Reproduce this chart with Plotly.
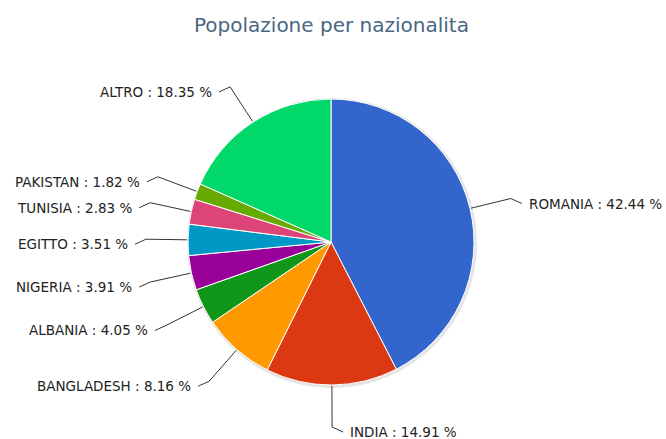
import math
import plotly.graph_objects as go

labels = ["ROMANIA", "INDIA", "BANGLADESH", "ALBANIA", "NIGERIA", "EGITTO", "TUNISIA", "PAKISTAN", "ALTRO"]
values = [42.44, 14.91, 8.16, 4.05, 3.91, 3.51, 2.83, 1.82, 18.35]
colors = ["#3366CC", "#DC3912", "#FF9900", "#109618", "#990099", "#0099C6", "#DD4477", "#66AA00", "#00D96A"]
title = "Popolazione per nazionalita"

W, H = 666, 439
cx, cy, R = 331, 242, 143
RL = 185
PAD = 16
DY = 5

fig = go.Figure()

fig.add_trace(go.Pie(
    labels=labels, values=values, sort=False, direction="clockwise", rotation=0,
    marker=dict(colors=colors, line=dict(color="white", width=1)),
    textinfo="none", hoverinfo="label+percent", showlegend=False,
    domain=dict(x=[(cx - R) / W, (cx + R) / W], y=[1 - (cy + R) / H, 1 - (cy - R) / H]),
))

total = sum(values)
cum = 0.0
shapes = []
annotations = []
# shadow
shapes.append(dict(type="circle", xref="x", yref="y", x0=cx - R - 1, x1=cx + R + 3, y0=cy - R - 1, y1=cy + R + 3,
                   fillcolor="rgba(0,0,0,0.10)", line=dict(width=0), layer="below"))
for lab, v in zip(labels, values):
    mid = (cum + v / 2) / total
    cum += v
    th = 2 * math.pi * mid
    s, c = math.sin(th), math.cos(th)
    ex, ey = cx + (R + 1) * s, cy - (R + 1) * c
    ax, ay = cx + RL * s, cy - RL * c
    ly = ay + DY
    if s >= 0:
        tx = ax + PAD
        lx = ax + PAD - 5
        xanchor = "left"
    else:
        tx = ax - PAD
        lx = ax - PAD + 5
        xanchor = "right"
    shapes.append(dict(type="path", xref="x", yref="y", layer="above",
                       path=f"M {ex:.1f} {ey:.1f} L {ax:.1f} {ay:.1f} L {lx:.1f} {ly:.1f}",
                       line=dict(color="#333333", width=1)))
    annotations.append(dict(x=tx, y=ly, xref="x", yref="y", text=f"{lab} : {v:.2f} %", showarrow=False,
                            xanchor=xanchor, yanchor="middle",
                            font=dict(family="DejaVu Sans, sans-serif", size=13.5, color="#222222")))

annotations.append(dict(x=331, y=25, xref="x", yref="y", text=title, showarrow=False, xanchor="center",
                        yanchor="middle", font=dict(family="DejaVu Sans, sans-serif", size=20, color="#4A6682")))

fig.update_layout(
    width=W, height=H, margin=dict(l=0, r=0, t=0, b=0),
    paper_bgcolor="white", plot_bgcolor="white",
    xaxis=dict(range=[0, W], visible=False, fixedrange=True),
    yaxis=dict(range=[H, 0], visible=False, fixedrange=True),
    shapes=shapes, annotations=annotations,
)

fig.write_html("out.html", config={"displayModeBar": False},
               post_script="document.body.style.margin='0px';document.body.style.padding='0px';")
